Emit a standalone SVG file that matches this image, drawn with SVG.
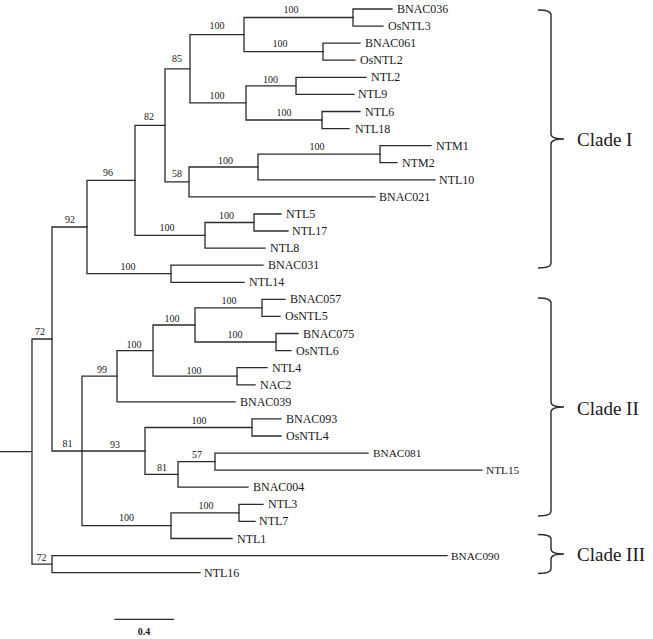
<svg xmlns="http://www.w3.org/2000/svg" width="653" height="639" viewBox="0 0 653 639">
<style>
.br{fill:none;stroke:#2b2b2b;stroke-width:1.3;stroke-linecap:square}
.lf{font-family:"Liberation Serif","Times New Roman",serif;font-size:12px;fill:#1a1a1a}
.sm{font-size:11.3px}
.bs{font-family:"Liberation Serif","Times New Roman",serif;font-size:10px;fill:#1a1a1a;text-anchor:middle}
.cl{font-family:"Liberation Serif","Times New Roman",serif;font-size:19px;fill:#1a1a1a}
.bk{fill:none;stroke:#2b2b2b;stroke-width:1.4}
</style>
<rect width="653" height="639" fill="#ffffff"/>
<g id="connectors">
<path class="br" d="M0,451.6 H32 M32,339 V564.1 M32,339 H52 M32,564.1 H52"/>
<path class="br" d="M52,227 V451 M52,227 H87 M52,451 H82"/>
<path class="br" d="M87,180.4 V273.7 M87,180.4 H135 M87,273.7 H171"/>
<path class="br" d="M135,125.4 V235.3 M135,125.4 H165 M135,235.3 H205"/>
<path class="br" d="M165,68.8 V181.9 M165,68.8 H190 M165,181.9 H189"/>
<path class="br" d="M190,34.6 V102.9 M190,34.6 H244 M190,102.9 H246"/>
<path class="br" d="M244,17.5 V51.7 M244,17.5 H353 M244,51.7 H323"/>
<path class="br" d="M353,9 V26.1 M353,9 H392 M353,26.1 H383"/>
<path class="br" d="M323,43.2 V60.2 M323,43.2 H360 M323,60.2 H355"/>
<path class="br" d="M246,85.8 V120 M246,85.8 H296 M246,120 H322"/>
<path class="br" d="M296,77.3 V94.4 M296,77.3 H366 M296,94.4 H354"/>
<path class="br" d="M322,111.5 V128.6 M322,111.5 H360 M322,128.6 H349"/>
<path class="br" d="M189,167 V196.9 M189,167 H258 M189,196.9 H375"/>
<path class="br" d="M258,154.2 V179.8 M258,154.2 H380 M258,179.8 H435"/>
<path class="br" d="M380,145.6 V162.7 M380,145.6 H431 M380,162.7 H397"/>
<path class="br" d="M205,222.5 V248.1 M205,222.5 H254 M205,248.1 H265"/>
<path class="br" d="M254,214 V231 M254,214 H281 M254,231 H288"/>
<path class="br" d="M171,265.2 V282.3 M171,265.2 H263 M171,282.3 H244"/>
<path class="br" d="M82,376.2 V525.7 M82,376.2 H117 M82,451 H145 M82,525.7 H171"/>
<path class="br" d="M117,350.6 V401.8 M117,350.6 H153 M117,401.8 H235"/>
<path class="br" d="M153,325 V376.2 M153,325 H195 M153,376.2 H237"/>
<path class="br" d="M195,307.9 V342 M195,307.9 H262 M195,342 H276"/>
<path class="br" d="M262,299.4 V316.4 M262,299.4 H285 M262,316.4 H280"/>
<path class="br" d="M276,333.5 V350.6 M276,333.5 H298 M276,350.6 H291"/>
<path class="br" d="M237,367.7 V384.8 M237,367.7 H267 M237,384.8 H255"/>
<path class="br" d="M145,427.5 V474.4 M145,427.5 H252 M145,474.4 H178"/>
<path class="br" d="M252,418.9 V436 M252,418.9 H281 M252,436 H281"/>
<path class="br" d="M178,461.6 V487.2 M178,461.6 H215 M178,487.2 H248"/>
<path class="br" d="M215,453.1 V470.2 M215,453.1 H368 M215,470.2 H482"/>
<path class="br" d="M171,512.9 V538.5 M171,512.9 H239 M171,538.5 H232"/>
<path class="br" d="M239,504.3 V521.4 M239,504.3 H263 M239,521.4 H255"/>
<path class="br" d="M52,555.6 V572.6 M52,555.6 H447 M52,572.6 H200"/>
</g>
<g id="bootstrap">
<text class="bs" x="291" y="12.5">100</text>
<text class="bs" x="280" y="47">100</text>
<text class="bs" x="217" y="29">100</text>
<text class="bs" x="217" y="98.5">100</text>
<text class="bs" x="270.5" y="82.5">100</text>
<text class="bs" x="284" y="116">100</text>
<text class="bs" x="177" y="62">85</text>
<text class="bs" x="149" y="119.5">82</text>
<text class="bs" x="108" y="176">96</text>
<text class="bs" x="70" y="223">92</text>
<text class="bs" x="177" y="176.5">58</text>
<text class="bs" x="225.5" y="163.5">100</text>
<text class="bs" x="317" y="150">100</text>
<text class="bs" x="167" y="230.5">100</text>
<text class="bs" x="226.5" y="219">100</text>
<text class="bs" x="128" y="270">100</text>
<text class="bs" x="40" y="335">72</text>
<text class="bs" x="67.5" y="447">81</text>
<text class="bs" x="102" y="373">99</text>
<text class="bs" x="134" y="347.5">100</text>
<text class="bs" x="172" y="321.5">100</text>
<text class="bs" x="229" y="304">100</text>
<text class="bs" x="235" y="338">100</text>
<text class="bs" x="194" y="373.5">100</text>
<text class="bs" x="115" y="447.5">93</text>
<text class="bs" x="199" y="423.5">100</text>
<text class="bs" x="162" y="471">81</text>
<text class="bs" x="197" y="457.5">57</text>
<text class="bs" x="126.5" y="521">100</text>
<text class="bs" x="206" y="509">100</text>
<text class="bs" x="41.5" y="561">72</text>
</g>
<g id="leaf-BNAC036"><text class="lf" x="397" y="13">BNAC036</text></g>
<g id="leaf-OsNTL3"><text class="lf" x="388" y="30.1">OsNTL3</text></g>
<g id="leaf-BNAC061"><text class="lf" x="365" y="47.2">BNAC061</text></g>
<g id="leaf-OsNTL2"><text class="lf" x="360" y="64.2">OsNTL2</text></g>
<g id="leaf-NTL2"><text class="lf" x="371" y="81.3">NTL2</text></g>
<g id="leaf-NTL9"><text class="lf" x="358" y="98.4">NTL9</text></g>
<g id="leaf-NTL6"><text class="lf" x="365" y="115.5">NTL6</text></g>
<g id="leaf-NTL18"><text class="lf" x="355" y="132.6">NTL18</text></g>
<g id="leaf-NTM1"><text class="lf" x="436" y="149.6">NTM1</text></g>
<g id="leaf-NTM2"><text class="lf" x="402" y="166.7">NTM2</text></g>
<g id="leaf-NTL10"><text class="lf" x="439" y="183.8">NTL10</text></g>
<g id="leaf-BNAC021"><text class="lf" x="379" y="200.9">BNAC021</text></g>
<g id="leaf-NTL5"><text class="lf" x="286" y="218">NTL5</text></g>
<g id="leaf-NTL17"><text class="lf" x="292" y="235">NTL17</text></g>
<g id="leaf-NTL8"><text class="lf" x="270" y="252.1">NTL8</text></g>
<g id="leaf-BNAC031"><text class="lf" x="268" y="269.2">BNAC031</text></g>
<g id="leaf-NTL14"><text class="lf" x="249" y="286.3">NTL14</text></g>
<g id="leaf-BNAC057"><text class="lf" x="290" y="303.4">BNAC057</text></g>
<g id="leaf-OsNTL5"><text class="lf" x="285" y="320.4">OsNTL5</text></g>
<g id="leaf-BNAC075"><text class="lf" x="303" y="337.5">BNAC075</text></g>
<g id="leaf-OsNTL6"><text class="lf" x="296" y="354.6">OsNTL6</text></g>
<g id="leaf-NTL4"><text class="lf" x="272" y="371.7">NTL4</text></g>
<g id="leaf-NAC2"><text class="lf" x="260" y="388.8">NAC2</text></g>
<g id="leaf-BNAC039"><text class="lf" x="240" y="405.8">BNAC039</text></g>
<g id="leaf-BNAC093"><text class="lf" x="286" y="422.9">BNAC093</text></g>
<g id="leaf-OsNTL4"><text class="lf" x="286" y="440">OsNTL4</text></g>
<g id="leaf-BNAC081"><text class="lf sm" x="373" y="457.1">BNAC081</text></g>
<g id="leaf-NTL15"><text class="lf sm" x="486" y="474.2">NTL15</text></g>
<g id="leaf-BNAC004"><text class="lf" x="253" y="491.2">BNAC004</text></g>
<g id="leaf-NTL3"><text class="lf" x="268" y="508.3">NTL3</text></g>
<g id="leaf-NTL7"><text class="lf" x="259" y="525.4">NTL7</text></g>
<g id="leaf-NTL1"><text class="lf" x="237" y="542.5">NTL1</text></g>
<g id="leaf-BNAC090"><text class="lf sm" x="451" y="559.6">BNAC090</text></g>
<g id="leaf-NTL16"><text class="lf" x="204" y="576.6">NTL16</text></g>
<g id="clade-I">
<path class="bk" d="M538,10 Q551,10 551,15 V134 Q551,139 564,139 Q551,139 551,144 V263 Q551,268 538,268"/>
<text class="cl" x="577" y="146">Clade I</text>
</g>
<g id="clade-II">
<path class="bk" d="M538,298 Q551,298 551,303 V402 Q551,407 564,407 Q551,407 551,412 V511 Q551,516 538,516"/>
<text class="cl" x="577" y="414.5">Clade II</text>
</g>
<g id="clade-III">
<path class="bk" d="M538,534.5 Q551,534.5 551,539 V549 Q551,554 564,554 Q551,554 551,559 V568.5 Q551,573.5 538,573.5"/>
<text class="cl" x="577" y="560.5">Clade III</text>
</g>
<g id="scale-bar">
<path class="br" d="M115,619.3 H173.3"/>
<text class="bs" x="144" y="635" font-weight="bold" font-size="9.5">0.4</text>
</g>
</svg>
